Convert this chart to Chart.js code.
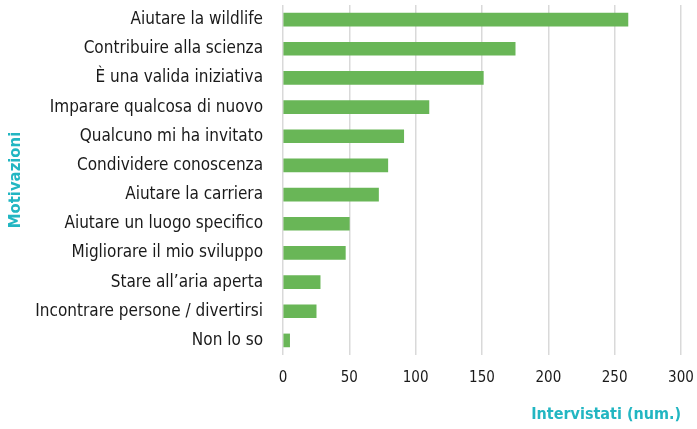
<!DOCTYPE html>
<html>
<head>
<meta charset="utf-8">
<script src="https://cdn.jsdelivr.net/npm/chart.js@4"></script>
<style>
  html, body { margin: 0; padding: 0; background: #fff; }
  #wrap { width: 697px; height: 429px; }
</style>
</head>
<body>
<div id="wrap"><canvas id="chartMotivazioni"></canvas></div>
<script>
const motivazioni = [
    'Aiutare la wildlife',
    'Contribuire alla scienza',
    'È una valida iniziativa',
    'Imparare qualcosa di nuovo',
    'Qualcuno mi ha invitato',
    'Condividere conoscenza',
    'Aiutare la carriera',
    'Aiutare un luogo specifico',
    'Migliorare il mio sviluppo',
    'Stare all\u2019aria aperta',
    'Incontrare persone / divertirsi',
    'Non lo so'
];
const intervistati = [260, 175, 151, 110, 91, 79, 72, 50, 47, 28, 25, 5];
const tickValori = [0, 50, 100, 150, 200, 250, 300];

const font = '"Liberation Sans Narrow", "DejaVu Sans Condensed", sans-serif';
const teal = '#22b6c2';

document.addEventListener('DOMContentLoaded', () => {
    const ctx = document.getElementById('chartMotivazioni').getContext('2d');
    new Chart(ctx, {
        type: 'bar',
        data: {
            labels: motivazioni,
            datasets: [{
                data: intervistati,
                backgroundColor: '#69b657',
                borderWidth: 0,
                barThickness: 13
            }]
        },
        options: {
            indexAxis: 'y',
            responsive: true,
            maintainAspectRatio: false,
            animation: false,
            layout: { padding: { top: 5, right: 16, left: 6, bottom: 5 } },
            plugins: { legend: { display: false }, tooltip: { enabled: false } },
            scales: {
                x: {
                    min: 0, max: 300,
                    afterBuildTicks: s => { s.ticks = tickValori.map(v => ({ value: v })); },
                    grid: { color: '#d9d9d9', lineWidth: 1.5, drawTicks: false },
                    border: { display: false },
                    ticks: { color: '#1a1a1a', font: { family: font, size: 15 }, padding: 14 },
                    title: { display: true, text: 'Intervistati (num.)', align: 'end', color: teal,
                             font: { family: font, size: 16, weight: 'bold' }, padding: 0 },
                    afterFit: s => { s.height = 69; s.paddingLeft = 0; s.paddingRight = 0; }
                },
                y: {
                    grid: { display: false, drawTicks: false },
                    border: { display: false },
                    ticks: { color: '#1a1a1a', font: { family: font, size: 17 }, padding: 20 },
                    title: { display: true, text: 'Motivazioni', color: teal,
                             font: { family: font, size: 16.5, weight: 'bold' }, padding: 0 },
                    afterFit: s => { s.width = 277; s.paddingTop = 0; s.paddingBottom = 0; }
                }
            }
        }
    });
});
</script>
</body>
</html>
